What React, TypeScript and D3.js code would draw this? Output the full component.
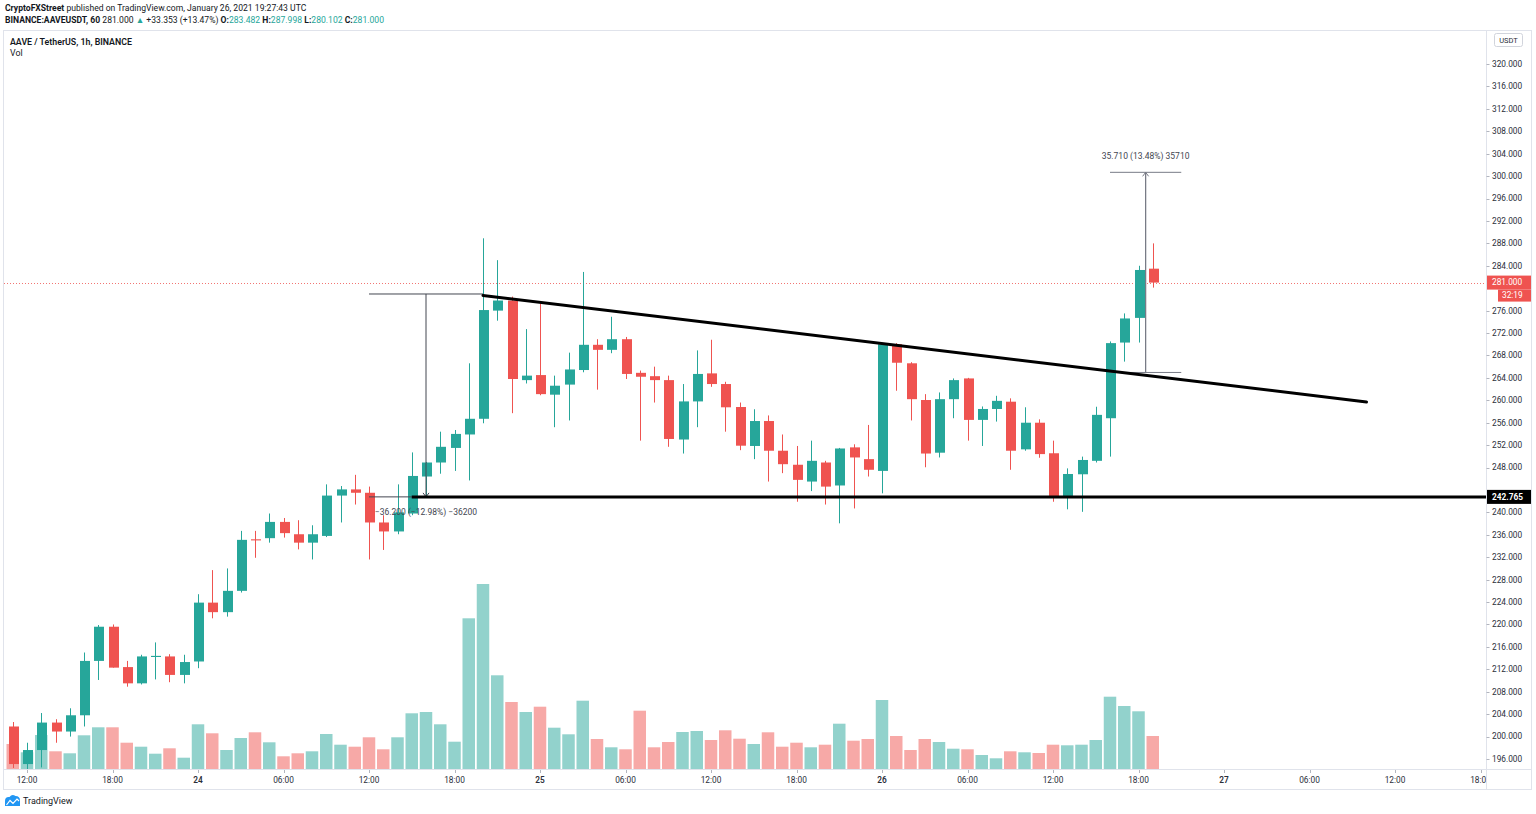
import React from 'react';
import * as d3 from 'd3';

// ---- data: AAVE/USDT 1h candles, first candle 2021-01-23 11:00 UTC ----
const firstCandle = Date.UTC(2021, 0, 23, 11);
const opens = [201.8, 195.1, 197.6, 202.5, 200.9, 203.8, 213.5, 219.6, 212.4, 209.5, 214.2, 214.3, 211.0, 213.4, 223.9, 222.2, 226.0, 235.2, 235.4, 238.3, 236.1, 234.6, 235.8, 243.0, 244.1, 243.5, 238.2, 236.6, 239.8, 246.4, 248.9, 251.5, 253.9, 256.7, 276.0, 277.8, 263.6, 264.5, 261.0, 262.8, 265.4, 269.9, 269.0, 270.9, 264.9, 264.3, 263.6, 253.0, 259.8, 264.8, 262.9, 258.8, 251.85, 256.3, 251.0, 248.5, 245.5, 248.9, 244.8, 251.6, 249.5, 247.4, 270.0, 266.6, 260.05, 250.65, 260.2, 263.9, 256.5, 258.45, 259.75, 251.25, 256.0, 250.55, 242.8, 246.8, 249.2, 256.8, 270.3, 274.7, 283.482];
const highs = [202.6, 198.9, 204.2, 203.1, 205.05, 215.0, 219.9, 220.0, 213.5, 214.6, 216.8, 214.7, 214.6, 225.4, 229.7, 230.0, 236.7, 236.7, 239.8, 239.0, 238.6, 237.7, 245.0, 244.7, 246.7, 244.6, 239.5, 245.0, 250.7, 249.0, 254.4, 254.7, 266.6, 288.9, 285.0, 278.5, 272.7, 277.6, 264.4, 268.5, 282.9, 270.9, 274.9, 271.3, 265.3, 266.0, 264.4, 262.9, 268.9, 270.8, 263.3, 259.6, 258.4, 257.3, 253.9, 251.85, 252.8, 249.2, 251.5, 252.15, 255.6, 270.2, 270.2, 266.8, 261.1, 261.4, 263.9, 264.0, 258.9, 260.8, 260.35, 258.75, 256.6, 252.8, 247.85, 249.95, 258.85, 270.5, 275.5, 284.0, 287.998];
const lows = [194.4, 194.0, 194.5, 198.9, 200.0, 201.8, 210.1, 212.3, 208.9, 209.3, 210.2, 209.7, 209.5, 212.2, 221.1, 221.4, 225.7, 231.9, 234.6, 235.5, 233.4, 231.6, 235.6, 238.2, 241.4, 231.6, 233.3, 236.1, 239.5, 242.9, 246.9, 247.4, 245.7, 255.9, 274.2, 257.7, 263.0, 260.9, 255.2, 256.4, 265.0, 261.9, 268.4, 263.8, 252.8, 259.6, 251.7, 250.5, 255.2, 262.4, 254.4, 251.1, 249.5, 245.5, 247.0, 241.9, 243.8, 241.4, 238.05, 240.7, 246.4, 243.4, 261.7, 256.4, 248.05, 249.8, 256.8, 252.8, 251.85, 256.2, 247.6, 251.0, 249.75, 241.9, 240.55, 240.1, 248.9, 249.95, 266.9, 270.3, 280.102];
const closes = [195.1, 197.6, 202.5, 200.9, 203.8, 213.5, 219.6, 212.3, 209.5, 214.3, 214.4, 211.0, 213.3, 223.9, 222.2, 226.0, 235.1, 235.0, 238.3, 236.3, 234.6, 236.1, 243.0, 244.1, 243.5, 238.2, 236.6, 240.0, 246.5, 248.9, 251.7, 254.0, 256.7, 276.1, 277.8, 263.8, 264.4, 261.1, 262.6, 265.5, 269.9, 269.0, 270.9, 264.7, 264.2, 263.6, 253.1, 259.8, 264.7, 262.9, 258.75, 251.9, 256.3, 251.0, 248.6, 245.8, 249.2, 244.6, 251.4, 249.8, 247.6, 270.0, 266.7, 260.2, 250.5, 260.2, 263.6, 256.5, 258.45, 259.9, 251.0, 256.0, 250.4, 242.8, 246.85, 249.35, 257.4, 270.2, 274.6, 283.25, 281.0];
const volumes = [5000, 3340, 6800, 3540, 3140, 6740, 8340, 8340, 5260, 4460, 3060, 4140, 2260, 8940, 7140, 3800, 6200, 7340, 5340, 2540, 3140, 3540, 7000, 4860, 4460, 6340, 3940, 6340, 11140, 11400, 8940, 5460, 30140, 37000, 18740, 13400, 11400, 12460, 8260, 6940, 13660, 6000, 4340, 3940, 11660, 4340, 5400, 7400, 7600, 5800, 7740, 6060, 5000, 7340, 4460, 5260, 4340, 4860, 9060, 5660, 6000, 13800, 6600, 3800, 6000, 5400, 4060, 3940, 2800, 2140, 3540, 3340, 3200, 4860, 4740, 4860, 5800, 14460, 12600, 11540, 6600];
const timeTickLabels = ['12:00', '18:00', '24', '06:00', '12:00', '18:00', '25', '06:00', '12:00', '18:00', '26', '06:00', '12:00', '18:00', '27', '06:00', '12:00', '18:00'];
const firstTimeTick = Date.UTC(2021, 0, 23, 12);

// annotations
const supportLevel = 242.765;
const supportStart = Date.UTC(2021, 0, 24, 15);
const trendTimes = [Date.UTC(2021, 0, 24, 20), Date.UTC(2021, 0, 27, 10)];
const trendPrices = [278.7, 259.7];
const measure1Times = [Date.UTC(2021, 0, 24, 12), Date.UTC(2021, 0, 24, 20), Date.UTC(2021, 0, 24, 15)];
const measure1Prices = [278.965, 242.765];
const measure2Times = [Date.UTC(2021, 0, 26, 16), Date.UTC(2021, 0, 26, 21)];
const measure2Prices = [264.965, 300.675];
const lastPrice = 281.0;

const HOUR = 3600 * 1000;
const GREEN = '#26a69a';
const RED = '#ef5350';
const FONT = 'Roboto, sans-serif';

export default function App() {
  const x = d3.scaleUtc().domain([firstTimeTick, Date.UTC(2021, 0, 27, 0)]).range([27, 1224]);
  const y = d3.scaleLinear().domain([196, 320]).range([759, 64]);
  const v = d3.scaleLinear().domain([0, 37000]).range([769, 584]);

  const candles = opens.map((o, i) => ({
    t: firstCandle + i * HOUR,
    o, h: highs[i], l: lows[i], c: closes[i], vol: volumes[i],
  }));

  // tick labels hidden under the price-label boxes are skipped
  const priceTicks = d3.range(196, 321, 4).filter(p =>
    Math.abs(y(p) - (y(lastPrice) + 13)) > 9 && Math.abs(y(p) - y(supportLevel)) > 10 && Math.abs(y(p) - y(lastPrice)) > 10);
  const timeTicks = timeTickLabels.map((lab, i) => ({ lab, t: firstTimeTick + i * 6 * HOUR }));

  const axisX = 1486.5;
  const m1x = x((measure1Times[0] + measure1Times[1]) / 2);
  const m2x = x((measure2Times[0] + measure2Times[1]) / 2);
  const mColor1 = '#434651';
  const mColor2 = '#787b86';

  return (
    <svg width={1536} height={814} style={{ position: 'absolute', left: 0, top: 0, background: '#fff' }} fontFamily={FONT}>
      <defs>
        <clipPath id="plot"><rect x={4} y={31} width={1482} height={738} /></clipPath>
        <clipPath id="taxis"><rect x={4} y={770} width={1482} height={19} /></clipPath>
      </defs>
      <rect x={0} y={0} width={1536} height={814} fill="#fff" />

      {/* header */}
      <text x={5} y={11} fontSize={8.6} fill="#131722">
        <tspan fontWeight={700}>CryptoFXStreet</tspan>
        <tspan> published on TradingView.com, January 26, 2021 19:27:43 UTC</tspan>
      </text>
      <text x={5} y={23} fontSize={8.6} fill="#131722">
        <tspan fontWeight={700}>BINANCE:AAVEUSDT, 60</tspan>
        <tspan> 281.000 </tspan>
        <tspan fill={GREEN}>▲</tspan>
        <tspan> +33.353 (+13.47%) </tspan>
        <tspan fontWeight={700}>O:</tspan><tspan fill={GREEN}>283.482 </tspan>
        <tspan fontWeight={700}>H:</tspan><tspan fill={GREEN}>287.998 </tspan>
        <tspan fontWeight={700}>L:</tspan><tspan fill={GREEN}>280.102 </tspan>
        <tspan fontWeight={700}>C:</tspan><tspan fill={GREEN}>281.000</tspan>
      </text>

      {/* panel frame */}
      <rect x={3.5} y={30.5} width={1528} height={759} fill="none" stroke="#e0e3eb" />
      <line x1={axisX} x2={axisX} y1={30.5} y2={789.5} stroke="#e0e3eb" />
      <line x1={3.5} x2={1531.5} y1={769.5} y2={769.5} stroke="#e0e3eb" />

      <text x={10} y={44.5} fontSize={8.8} fontWeight={600} fill="#131722">AAVE / TetherUS, 1h, BINANCE</text>
      <text x={10} y={56} fontSize={8.8} fill="#131722">Vol</text>

      <g clipPath="url(#plot)">
        {/* volume */}
        {candles.map((d, i) => (
          <rect key={'v' + i} x={x(d.t) - 6.25} width={12.5} y={v(d.vol)} height={769 - v(d.vol)}
            fill={d.c >= d.o ? '#92d2cc' : '#f7a9a7'} />
        ))}
        {/* current price dotted line */}
        <line x1={4} x2={axisX} y1={Math.round(y(lastPrice)) + 0.5} y2={Math.round(y(lastPrice)) + 0.5} stroke={RED} strokeDasharray="1,2" strokeWidth={1} opacity={0.8} />
        {/* candles */}
        {candles.map((d, i) => {
          const cx = Math.round(x(d.t));
          const col = d.c >= d.o ? GREEN : RED;
          const top = y(Math.max(d.o, d.c));
          const bot = y(Math.min(d.o, d.c));
          return (
            <g key={'c' + i}>
              <line x1={cx + 0.5} x2={cx + 0.5} y1={y(d.h)} y2={y(d.l)} stroke={col} strokeWidth={1} />
              <rect x={cx - 4} width={10} y={top} height={Math.max(1, bot - top)} fill={col} />
            </g>
          );
        })}

        {/* measure 1 */}
        <g stroke={mColor1} strokeWidth={1} fill="none">
          <line x1={x(measure1Times[0])} x2={x(measure1Times[1])} y1={y(measure1Prices[0])} y2={y(measure1Prices[0])} />
          <line x1={x(measure1Times[0])} x2={x(measure1Times[2])} y1={y(measure1Prices[1])} y2={y(measure1Prices[1])} />
          <line x1={m1x} x2={m1x} y1={y(measure1Prices[0])} y2={y(measure1Prices[1])} />
          <polyline points={`${m1x - 3},${y(measure1Prices[1]) - 4} ${m1x},${y(measure1Prices[1])} ${m1x + 3},${y(measure1Prices[1]) - 4}`} />
        </g>
        <text x={m1x} y={y(measure1Prices[1]) + 18} fontSize={8.5} fill="#434651" textAnchor="middle">−36.200 (−12.98%) −36200</text>

        {/* measure 2 */}
        <g stroke={mColor2} strokeWidth={1} fill="none">
          <line x1={x(measure2Times[0])} x2={x(measure2Times[1])} y1={y(measure2Prices[0])} y2={y(measure2Prices[0])} />
          <line x1={x(measure2Times[0])} x2={x(measure2Times[1])} y1={y(measure2Prices[1])} y2={y(measure2Prices[1])} />
          <line x1={m2x} x2={m2x} y1={y(measure2Prices[0])} y2={y(measure2Prices[1])} strokeWidth={1.3} />
          <polyline points={`${m2x - 3},${y(measure2Prices[1]) + 4} ${m2x},${y(measure2Prices[1])} ${m2x + 3},${y(measure2Prices[1]) + 4}`} />
        </g>
        <text x={m2x} y={y(measure2Prices[1]) - 13} fontSize={8.5} fill="#434651" textAnchor="middle">35.710 (13.48%) 35710</text>

        {/* support & trend lines */}
        <line x1={x(supportStart)} x2={axisX} y1={y(supportLevel)} y2={y(supportLevel)} stroke="#000" strokeWidth={3} />
        <line x1={x(trendTimes[0])} x2={x(trendTimes[1])} y1={y(trendPrices[0])} y2={y(trendPrices[1])} stroke="#000" strokeWidth={3} strokeLinecap="round" />
      </g>

      {/* price axis */}
      {priceTicks.map(p => (
        <g key={'p' + p}>
          <line x1={axisX} x2={axisX + 3} y1={Math.round(y(p)) + 0.5} y2={Math.round(y(p)) + 0.5} stroke="#b2b5be" />
          <text x={1492} y={y(p)} dy="0.35em" fontSize={8.3} fill="#2a2e39">{p.toFixed(3)}</text>
        </g>
      ))}
      <rect x={1494.5} y={33.5} width={28} height={13} rx={2} fill="#fff" stroke="#d1d4dc" />
      <text x={1508.5} y={40} dy="0.35em" fontSize={7.5} fill="#2a2e39" textAnchor="middle">USDT</text>

      <rect x={1487} y={y(lastPrice) - 7} width={44} height={14} fill={RED} />
      <text x={1492} y={y(lastPrice)} dy="0.35em" fontSize={8.3} fill="#fff">281.000</text>
      <rect x={1498} y={y(lastPrice) + 7} width={33} height={12} fill={RED} />
      <text x={1502} y={y(lastPrice) + 13} dy="0.35em" fontSize={8.3} fill="#fff">32:19</text>

      <rect x={1487} y={y(supportLevel) - 7} width={44} height={14} fill="#000" />
      <text x={1492} y={y(supportLevel)} dy="0.35em" fontSize={8.3} fontWeight={700} fill="#fff">242.765</text>

      {/* time axis */}
      <g clipPath="url(#taxis)">
        {timeTicks.map((d, i) => (
          <g key={'t' + i}>
            <line x1={Math.round(x(d.t)) + 0.5} x2={Math.round(x(d.t)) + 0.5} y1={770} y2={773} stroke="#b2b5be" />
            <text x={x(d.t)} y={780} dy="0.35em" fontSize={8.3} fill="#2a2e39" textAnchor="middle"
              fontWeight={d.lab.length <= 2 ? 600 : 400}>{d.lab}</text>
          </g>
        ))}
      </g>

      {/* TradingView logo */}
      <path d="M5,806 L5,801 Q5,796.5 9.5,797 Q12,793.5 15.5,796 Q20,796 20,800.5 L20,806 Z" fill="#2196f3" />
      <polyline points="6.5,805 10,800.5 13,803.5 17,799 19,801" fill="none" stroke="#fff" strokeWidth={1.2} />
      <text x={23} y={801} dy="0.35em" fontSize={9} fill="#131722">TradingView</text>
    </svg>
  );
}
